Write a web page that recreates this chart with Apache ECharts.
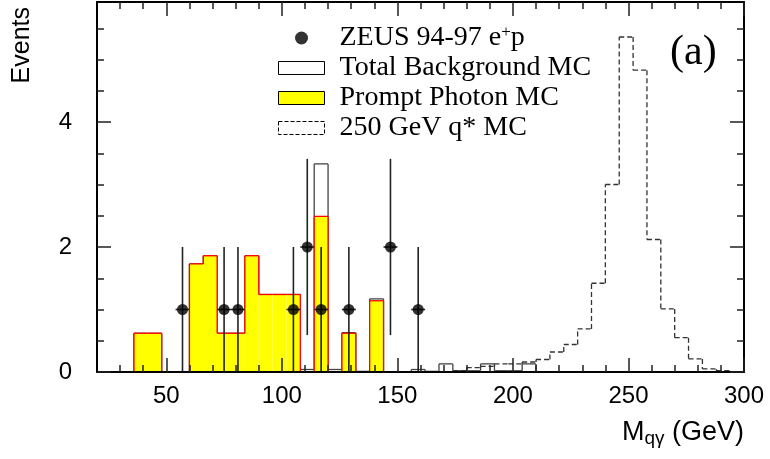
<!DOCTYPE html>
<html>
<head>
<meta charset="utf-8">
<script src="https://cdn.jsdelivr.net/npm/echarts@6/dist/echarts.min.js"></script>
<style>
html,body{margin:0;padding:0;background:#fff;}
#chart{width:770px;height:459px;}
</style>
</head>
<body>
<div id="chart"></div>
<script>
// Bin edges (GeV), 6 GeV bins
const binEdges = [24,30,36,42,48,54,60,66,72,78,84,90,96,102,108,114,120,126,132,138,144,150,156,162,168,174,180,186,192,198,204,210,216,222,228,234,240,246,252,258,264,270,276,282,288,294,300];
// Prompt photon MC (yellow)
const promptPhoton = [0,0,0.62,0.62,0,0,1.73,1.86,0.62,0.62,1.86,1.24,1.24,1.24,0,2.49,0,0.62,0,1.14,
  0,0,0,0,0,0,0,0,0,0,0,0,0,0,0,0,0,0,0,0,0,0,0,0,0,0];
// Total background MC
const totalBackground = [0,0,0.62,0.62,0,0,1.73,1.86,0.62,0.62,1.86,1.24,1.24,1.24,0.04,3.33,0.04,0.63,0.01,1.17,
  0,0,0.04,0.01,0.13,0.02,0.02,0.13,0.02,0.02,0.13,0,
  0,0,0,0,0,0,0,0,0,0,0,0,0,0];
// 250 GeV q* MC (dashed)
const qStar250 = [0,0,0,0,0,0,0,0,0,0,0,0,0,0,0,0,0,0,0,0,0,0,0,0,
  0,0.02,0.07,0.09,0.13,0.13,0.16,0.2,0.32,0.44,0.69,1.42,3.0,5.36,4.83,2.12,1.01,0.55,0.21,0.05,0.02,0];
// ZEUS data points
const dataMass = [57,75,81,105,111,117,129,147,159];
const dataEvents = [1,1,1,1,2,1,1,2,1];
const dataError = [1,1,1,1,1.41,1,1,1.41,1];
// Axis ticks / labels
const xLabelValues = [50,100,150,200,250,300];
const xMinorTicks = [30,40,60,70,80,90,110,120,130,140,160,170,180,190,210,220,230,240,260,270,280,290];
const yLabelValues = [0,2,4];
const yMinorTicks = [0.5,1,1.5,2.5,3,3.5,4.5,5,5.5];

const X_MIN = 20, X_MAX = 300, Y_MIN = 0, Y_MAX = 5.92;
const ERR_HALF_WIDTH = 3;

function histData(vals) {
  return vals.map((v, i) => [binEdges[i], binEdges[i + 1], v, i > 0 ? vals[i - 1] : 0, i === vals.length - 1 ? 1 : 0]);
}

function histRender(fill, stroke, dash) {
  return function (params, api) {
    const x0 = api.value(0), x1 = api.value(1), v = api.value(2), vp = api.value(3), last = api.value(4);
    const pTL = api.coord([x0, v]), pTR = api.coord([x1, v]);
    const pBL = api.coord([x0, 0]), pBR = api.coord([x1, 0]);
    const pPrev = api.coord([x0, vp]);
    const ls = { stroke: stroke, lineWidth: 1.3, lineDash: dash || null, fill: null };
    const children = [];
    if (fill && v > 0) {
      children.push({ type: 'rect', shape: { x: pTL[0], y: pTL[1], width: pTR[0] - pTL[0], height: pBL[1] - pTL[1] }, style: { fill: fill } });
    }
    if (v > 0) {
      children.push({ type: 'line', shape: { x1: pTL[0], y1: pTL[1], x2: pTR[0], y2: pTR[1] }, style: ls });
    }
    if (v !== vp) {
      children.push({ type: 'line', shape: { x1: pPrev[0], y1: pPrev[1], x2: pTL[0], y2: pTL[1] }, style: ls });
    }
    if (last && v > 0) {
      children.push({ type: 'line', shape: { x1: pTR[0], y1: pTR[1], x2: pBR[0], y2: pBR[1] }, style: ls });
    }
    return { type: 'group', children: children };
  };
}

const lineStyleFrame = { color: '#000', width: 2 };
const tickStyle = { color: '#222', width: 1.5 };
const sans = 'Liberation Sans';
const serif = 'Liberation Serif';

function xAx(pos, ticks, len, showLine, label) {
  const a = {
    type: 'value', position: pos, min: X_MIN, max: X_MAX, z: 10,
    axisLine: { show: showLine, onZero: false, lineStyle: lineStyleFrame },
    axisTick: { show: true, inside: true, length: len, customValues: ticks, lineStyle: tickStyle },
    axisLabel: { show: false },
    splitLine: { show: false }
  };
  if (label) {
    a.axisLabel = { show: true, customValues: xLabelValues, margin: 12, fontSize: 24, fontFamily: sans, color: '#000' };
    a.name = '{m|M}{s|qγ}{m| (GeV)}';
    a.nameLocation = 'end';
    a.nameGap = 0;
    a.nameTextStyle = {
      align: 'right', verticalAlign: 'top', padding: [46, 0, 0, 0],
      rich: {
        m: { fontFamily: sans, fontSize: 27, lineHeight: 30, color: '#000' },
        s: { fontFamily: sans, fontSize: 19, lineHeight: 19, padding: [11, 0, 0, 0], color: '#000' }
      }
    };
  }
  return a;
}
function yAx(pos, ticks, len, showLine, label) {
  const a = {
    type: 'value', position: pos, min: Y_MIN, max: Y_MAX, z: 10,
    axisLine: { show: showLine, onZero: false, lineStyle: lineStyleFrame },
    axisTick: { show: true, inside: true, length: len, customValues: ticks, lineStyle: tickStyle },
    axisLabel: { show: false },
    splitLine: { show: false }
  };
  if (label) {
    a.axisLabel = { show: true, customValues: yLabelValues, margin: 25, fontSize: 24, fontFamily: sans, color: '#000' };
    a.name = 'Events';
    a.nameLocation = 'end';
    a.nameRotate = 90;
    a.nameGap = 0;
    a.nameTextStyle = { align: 'right', verticalAlign: 'bottom', padding: [0, 5, 62, 0], fontFamily: sans, fontSize: 25, color: '#000' };
  }
  return a;
}

const chart = echarts.init(document.getElementById('chart'), null, { renderer: 'canvas' });
const option = {
  backgroundColor: '#fff',
  animation: false,
  title: {
    text: '(a)', left: 670, top: 32, padding: 0,
    textStyle: { fontFamily: serif, fontSize: 42, fontWeight: 'normal', color: '#000' }
  },
  grid: { left: 97, right: 26, top: 2, bottom: 87, containLabel: false },
  legend: {
    orient: 'vertical', left: 278, top: 24, padding: 0, itemGap: 2,
    itemWidth: 46, itemHeight: 13, selectedMode: false,
    textStyle: {
      fontFamily: serif, fontSize: 28, lineHeight: 28, color: '#000', padding: [0, 0, 0, 10],
      rich: {
        t: { fontFamily: serif, fontSize: 28, lineHeight: 28, color: '#000' },
        sup: { fontFamily: serif, fontSize: 17, lineHeight: 17, padding: [0, 0, 11, 0], color: '#000' }
      }
    },
    formatter: function (name) {
      if (name === 'ZEUS 94-97 e+p') return '{t|ZEUS 94-97 e}{sup|+}{t|p}';
      return '{t|' + name + '}';
    },
    data: [
      { name: 'ZEUS 94-97 e+p', icon: 'circle', itemStyle: { color: '#000', borderWidth: 0 } },
      { name: 'Total Background MC', icon: 'rect', itemStyle: { color: '#fff', borderColor: '#000', borderWidth: 1 } },
      { name: 'Prompt Photon MC', icon: 'rect', itemStyle: { color: '#ffff00', borderColor: '#000', borderWidth: 1 } },
      { name: '250 GeV q* MC', icon: 'rect', itemStyle: { color: '#fff', borderColor: '#000', borderWidth: 1, borderType: 'dashed' } }
    ]
  },
  xAxis: [
    xAx('bottom', xLabelValues, 14, true, true),
    xAx('bottom', xMinorTicks, 7, false, false),
    xAx('top', xLabelValues, 14, true, false),
    xAx('top', xMinorTicks, 7, false, false)
  ],
  yAxis: [
    yAx('left', yLabelValues, 14, true, true),
    yAx('left', yMinorTicks, 7, false, false),
    yAx('right', yLabelValues, 14, true, false),
    yAx('right', yMinorTicks, 7, false, false)
  ],
  series: [
    {
      name: 'Total Background MC', type: 'custom', xAxisIndex: 0, yAxisIndex: 0, z: 2, clip: true,
      itemStyle: { color: '#fff', borderColor: '#000' },
      renderItem: histRender(null, '#444', null),
      encode: { x: [0, 1], y: [2, 3] },
      data: histData(totalBackground)
    },
    {
      name: 'Prompt Photon MC', type: 'custom', xAxisIndex: 0, yAxisIndex: 0, z: 3, clip: true,
      itemStyle: { color: '#ffff00' },
      renderItem: histRender('#ffff00', '#ff0000', null),
      encode: { x: [0, 1], y: [2, 3] },
      data: histData(promptPhoton)
    },
    {
      name: '250 GeV q* MC', type: 'custom', xAxisIndex: 0, yAxisIndex: 0, z: 4, clip: true,
      itemStyle: { color: '#fff' },
      renderItem: histRender(null, '#333', [5, 3]),
      encode: { x: [0, 1], y: [2, 3] },
      data: histData(qStar250)
    },
    {
      name: 'ZEUS error bars', type: 'custom', xAxisIndex: 0, yAxisIndex: 0, z: 5, clip: true,
      renderItem: function (params, api) {
        const x = api.value(0), y = api.value(1), e = api.value(2);
        const lo = api.coord([x, y - e]), hi = api.coord([x, y + e]);
        const l = api.coord([x - ERR_HALF_WIDTH, y]), r = api.coord([x + ERR_HALF_WIDTH, y]);
        const st = { stroke: '#222', lineWidth: 1.6 };
        return { type: 'group', children: [
          { type: 'line', shape: { x1: lo[0], y1: lo[1], x2: hi[0], y2: hi[1] }, style: st },
          { type: 'line', shape: { x1: l[0], y1: l[1], x2: r[0], y2: r[1] }, style: st }
        ] };
      },
      encode: { x: 0, y: [1] },
      data: dataMass.map((m, i) => [m, dataEvents[i], dataError[i]])
    },
    {
      name: 'ZEUS 94-97 e+p', type: 'scatter', xAxisIndex: 0, yAxisIndex: 0, z: 6,
      symbol: 'circle', symbolSize: 11, itemStyle: { color: '#000' },
      data: dataMass.map((m, i) => [m, dataEvents[i]])
    }
  ]
};
chart.setOption(option);
</script>
</body>
</html>
